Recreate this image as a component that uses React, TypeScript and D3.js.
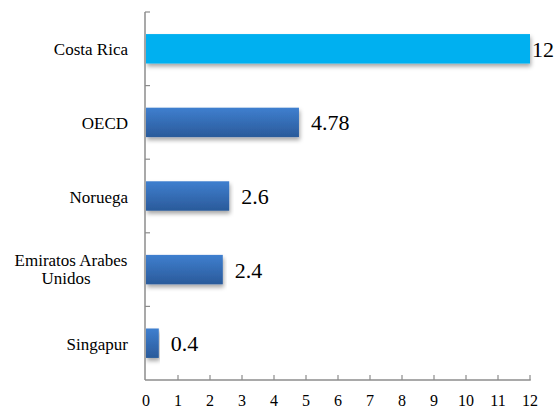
import React from "react";
import * as d3 from "d3";

const countries = ["Costa Rica", "OECD", "Noruega", "Emiratos Arabes Unidos", "Singapur"];
const values = [12, 4.78, 2.6, 2.4, 0.4];
const valueLabels = ["12", "4.78", "2.6", "2.4", "0.4"];
const xTicks = [0, 1, 2, 3, 4, 5, 6, 7, 8, 9, 10, 11, 12];

const FONT = "Liberation Serif";

export default function App() {
  const width = 556;
  const height = 409;
  const left = 146;
  const right = 530;
  const top = 12;
  const bottom = 380;

  const x = d3.scaleLinear().domain([0, 12]).range([left, right]);
  const y = d3.scaleBand<string>().domain(countries).range([top, bottom]).paddingInner(0.6).paddingOuter(0.3);
  const step = y.step();
  const bounds = d3.range(countries.length).map((i) => top + i * step);
  const axisColor = "#8c8c8c";

  return (
    <svg width={width} height={height} style={{ position: "absolute", left: 0, top: 0, background: "#fff" }}>
      <defs>
        <linearGradient id="barGrad" x1="0" y1="0" x2="0" y2="1">
          <stop offset="0%" stopColor="#3f7fcf" />
          <stop offset="100%" stopColor="#2a5a9a" />
        </linearGradient>
        <filter id="shadow" x="-5%" y="-20%" width="110%" height="160%">
          <feDropShadow dx={1} dy={3} stdDeviation={2} floodColor="#000" floodOpacity={0.35} />
        </filter>
      </defs>

      {/* bars */}
      {countries.map((c, i) => (
        <rect
          key={c}
          x={x(0)}
          y={y(c)!}
          width={x(values[i]) - x(0)}
          height={y.bandwidth()}
          fill={i === 0 ? "#00b0f0" : "url(#barGrad)"}
          filter="url(#shadow)"
        />
      ))}

      {/* value labels */}
      {countries.map((c, i) => (
        <text
          key={c}
          x={Math.min(x(values[i]) + 12, 532)}
          y={y(c)! + y.bandwidth() / 2 + 8}
          fill="#000"
          style={{ fontFamily: FONT, fontSize: 22 }}
        >
          {valueLabels[i]}
        </text>
      ))}

      {/* category labels */}
      {countries.map((c) => {
        const cy = y(c)! + y.bandwidth() / 2;
        if (c === "Emiratos Arabes Unidos") {
          return (
            <text key={c} textAnchor="middle" fill="#000" style={{ fontFamily: FONT, fontSize: 17 }}>
              <tspan x={71} y={cy - 3.5}>Emiratos Arabes</tspan>
              <tspan x={66} y={cy + 14.5}>Unidos</tspan>
            </text>
          );
        }
        return (
          <text key={c} x={128} y={cy + 6.5} textAnchor="end" fill="#000" style={{ fontFamily: FONT, fontSize: 17 }}>
            {c}
          </text>
        );
      })}

      {/* axes */}
      <line x1={left - 1} x2={left - 1} y1={top} y2={bottom} stroke={axisColor} strokeWidth={1.5} />
      <line x1={left - 1} x2={right + 0.75} y1={bottom} y2={bottom} stroke={axisColor} strokeWidth={1.5} />
      {bounds.map((b) => (
        <line key={b} x1={left - 1} x2={left + 4} y1={b} y2={b} stroke={axisColor} strokeWidth={1.2} />
      ))}
      {xTicks.slice(1).map((t) => (
        <line key={t} x1={x(t)} x2={x(t)} y1={bottom} y2={bottom - 5} stroke={axisColor} strokeWidth={1.2} />
      ))}
      {xTicks.map((t) => (
        <text key={t} x={x(t)} y={406} textAnchor="middle" fill="#000" style={{ fontFamily: FONT, fontSize: 16 }}>
          {String(t)}
        </text>
      ))}
    </svg>
  );
}
